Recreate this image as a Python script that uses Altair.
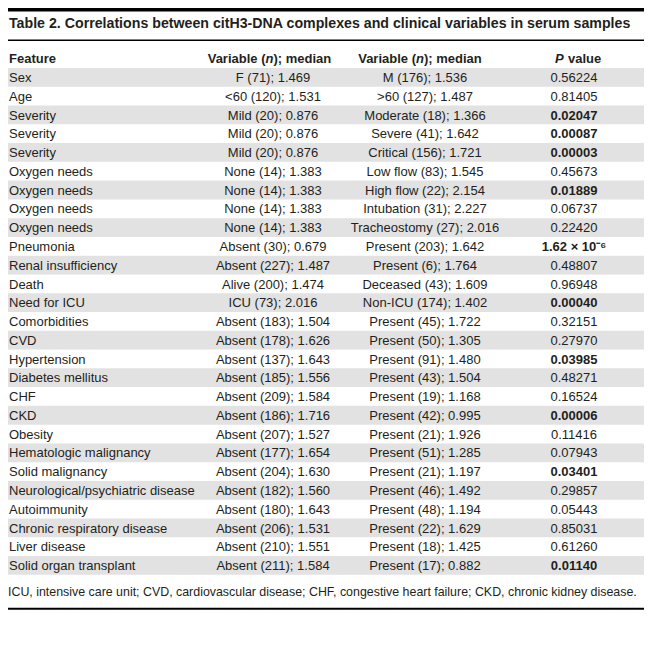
import altair as alt
import pandas as pd

features = ["Sex", "Age", "Severity", "Severity", "Severity", "Oxygen needs", "Oxygen needs",
            "Oxygen needs", "Oxygen needs", "Pneumonia", "Renal insufficiency", "Death",
            "Need for ICU", "Comorbidities", "CVD", "Hypertension", "Diabetes mellitus", "CHF",
            "CKD", "Obesity", "Hematologic malignancy", "Solid malignancy",
            "Neurological/psychiatric disease", "Autoimmunity", "Chronic respiratory disease",
            "Liver disease", "Solid organ transplant"]
var1 = ["F (71); 1.469", "<60 (120); 1.531", "Mild (20); 0.876", "Mild (20); 0.876",
        "Mild (20); 0.876", "None (14); 1.383", "None (14); 1.383", "None (14); 1.383",
        "None (14); 1.383", "Absent (30); 0.679", "Absent (227); 1.487", "Alive (200); 1.474",
        "ICU (73); 2.016", "Absent (183); 1.504", "Absent (178); 1.626", "Absent (137); 1.643",
        "Absent (185); 1.556", "Absent (209); 1.584", "Absent (186); 1.716", "Absent (207); 1.527",
        "Absent (177); 1.654", "Absent (204); 1.630", "Absent (182); 1.560", "Absent (180); 1.643",
        "Absent (206); 1.531", "Absent (210); 1.551", "Absent (211); 1.584"]
var2 = ["M (176); 1.536", ">60 (127); 1.487", "Moderate (18); 1.366", "Severe (41); 1.642",
        "Critical (156); 1.721", "Low flow (83); 1.545", "High flow (22); 2.154",
        "Intubation (31); 2.227", "Tracheostomy (27); 2.016", "Present (203); 1.642",
        "Present (6); 1.764", "Deceased (43); 1.609", "Non-ICU (174); 1.402", "Present (45); 1.722",
        "Present (50); 1.305", "Present (91); 1.480", "Present (43); 1.504", "Present (19); 1.168",
        "Present (42); 0.995", "Present (21); 1.926", "Present (51); 1.285", "Present (21); 1.197",
        "Present (46); 1.492", "Present (48); 1.194", "Present (22); 1.629", "Present (18); 1.425",
        "Present (17); 0.882"]
pvals = ["0.56224", "0.81405", "0.02047", "0.00087", "0.00003", "0.45673", "0.01889", "0.06737",
         "0.22420", "1.62 \u00d7 10\u207b\u2076", "0.48807", "0.96948", "0.00040", "0.32151",
         "0.27970", "0.03985", "0.48271", "0.16524", "0.00006", "0.11416", "0.07943", "0.03401",
         "0.29857", "0.05443", "0.85031", "0.61260", "0.01140"]
significant = [False, False, True, True, True, False, True, False, False, True, False, False,
               True, False, False, True, False, False, True, False, False, True, False, False,
               False, False, True]

title_text = "Table 2. Correlations between citH3-DNA complexes and clinical variables in serum samples"
footnote = ("ICU, intensive care unit; CVD, cardiovascular disease; CHF, congestive heart failure; "
            "CKD, chronic kidney disease.")

# ---- layout ----
W, H = 636, 612
ROW0, ROWH = 60.0, 18.77
FONT = "Liberation Sans"
INK = "#231f20"
BAND = "#e2e2e2"
FS = 13
C1, C2, C3 = 265, 417, 566

df = pd.DataFrame({"feature": features, "v1": var1, "v2": var2, "p": pvals, "sig": significant})
df["i"] = range(len(df))
df["top"] = ROW0 + df["i"] * ROWH
df["bot"] = df["top"] + ROWH
df["mid"] = df["top"] + ROWH / 2 + 0.7
df["shade"] = df["i"] % 2 == 0

ys = alt.Scale(domain=[0, H], reverse=True, nice=False, zero=False)

base = alt.Chart(df)

bands = base.transform_filter("datum.shade").mark_rect(color=BAND).encode(
    x=alt.value(0), x2=alt.value(W),
    y=alt.Y("top:Q", scale=ys, axis=None), y2="bot:Q")


def col_text(field, xpos, align, weight="normal", filt=None):
    ch = base
    if filt is not None:
        ch = ch.transform_filter(filt)
    return ch.mark_text(align=align, baseline="middle", font=FONT, fontSize=FS,
                        fontWeight=weight, color=INK).encode(
        x=alt.value(xpos), y=alt.Y("mid:Q", scale=ys, axis=None), text=f"{field}:N")


t_feat = col_text("feature", 1, "left")
t_v1 = col_text("v1", C1, "center")
t_v2 = col_text("v2", C2, "center")
t_p = col_text("p", C3, "center", filt="!datum.sig")
t_pb = col_text("p", C3, "center", weight="bold", filt="datum.sig")

one = alt.Data(values=[{"k": 0}])


def label(txt, x, y, align="left", weight="normal", style="normal", size=FS):
    return alt.Chart(one).mark_text(align=align, baseline="middle", font=FONT, fontSize=size,
                                    fontWeight=weight, fontStyle=style, color=INK).encode(
        x=alt.value(x), y=alt.value(y), text=alt.value(txt))


HY = 50.5
headers = [
    label("Feature", 1, HY, weight="bold"),
    label("Variable (", C1 - 7.5, HY, align="right", weight="bold"),
    label("n", C1 - 3.5, HY, align="center", weight="bold", style="italic"),
    label("); median", C1 + 0.5, HY, align="left", weight="bold"),
    label("Variable (", C2 - 9, HY, align="right", weight="bold"),
    label("n", C2 - 5, HY, align="center", weight="bold", style="italic"),
    label("); median", C2 - 1, HY, align="left", weight="bold"),
    label("P", C3 - 19, HY, align="left", weight="bold", style="italic"),
    label("value", C3 - 6, HY, align="left", weight="bold"),
]

title = label(title_text, 1, 15.5, weight="bold", size=14.2)
foot = label(footnote, 0, 584, size=12.4)

top_bar = alt.Chart(one).mark_rect(color="#000000").encode(
    x=alt.value(0), x2=alt.value(W), y=alt.value(0), y2=alt.value(3.5))
rule1 = alt.Chart(one).mark_rule(color="#000000", strokeWidth=1.5).encode(
    x=alt.value(0), x2=alt.value(W), y=alt.value(32.2))
rule2 = alt.Chart(one).mark_rule(color="#000000", strokeWidth=2).encode(
    x=alt.value(0), x2=alt.value(W), y=alt.value(600.7))

chart = alt.layer(
    bands, top_bar, rule1, rule2, title, *headers, t_feat, t_v1, t_v2, t_p, t_pb, foot
).properties(
    width=W, height=H, padding=0, autosize="none", background="#ffffff"
).configure_view(stroke=None)

chart.save("out.html", embed_options={"renderer": "svg", "actions": False})
